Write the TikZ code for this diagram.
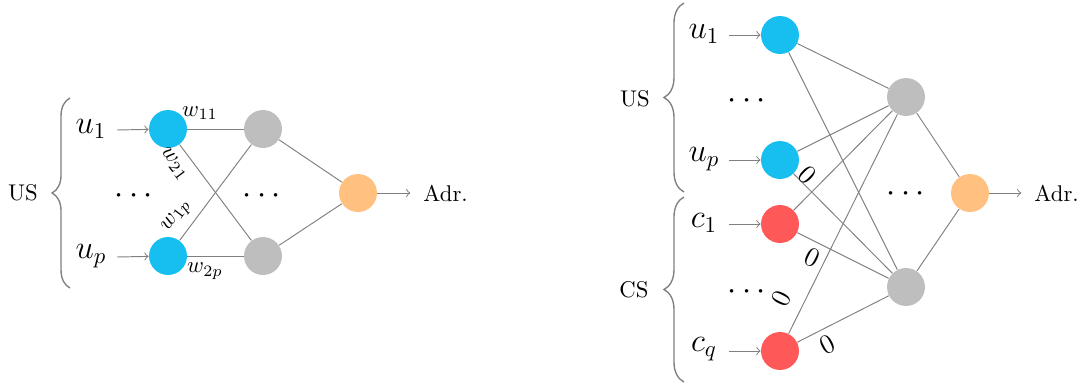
\documentclass[tikz,border=0pt]{standalone}
\usetikzlibrary{decorations.pathreplacing}
\definecolor{inblue}{RGB}{22,191,240}
\definecolor{inred}{RGB}{255,88,88}
\definecolor{outorange}{RGB}{255,192,128}
\definecolor{hidgray}{RGB}{190,190,190}
\definecolor{edgegray}{RGB}{128,128,128}
\tikzset{
  neuron/.style={circle,minimum size=16.7pt,inner sep=0pt},
  inu/.style={neuron,fill=inblue},
  inc/.style={neuron,fill=inred},
  hid/.style={neuron,fill=hidgray},
  outn/.style={neuron,fill=outorange},
  conn/.style={draw=edgegray,line width=0.42pt},
  feed/.style={draw=edgegray,line width=0.42pt,->},
  bracestyle/.style={draw=edgegray,line width=0.6pt,decorate,decoration={brace,amplitude=#1}},
  vartext/.style={font=\Large,inner sep=1pt},
  wlab/.style={inner sep=0pt},
  zlab/.style={font=\large,inner sep=0pt},
}
\begin{document}
\begin{tikzpicture}[x=0.44pt,y=-0.44pt]
\useasboundingbox (0,0) rectangle (1081,385);
% ---------------- left network ----------------
\node (lus) at (23,193) {US};
\draw[bracestyle=7.9pt] (70,288) -- (70,98);
\node[vartext] (lu1) at (91,129) {$u_1$};
\node[vartext] (lup) at (91,256) {$u_p$};
\node[vartext] (ldots1) at (134,196) {$\cdots$};
\node[inu] (lb1) at (168,129) {};
\node[inu] (lbp) at (168,256) {};
\node[hid] (lg1) at (263,129) {};
\node[hid] (lg2) at (263,256) {};
\node[vartext] (ldots2) at (262,196) {$\cdots$};
\node[outn] (lo) at (358,193) {};
\node[anchor=west,inner sep=0pt] (ladr) at (423,193) {Adr.};
\coordinate (lu1e) at (117,130);
\coordinate (lupe) at (117,257);
\draw[feed] (lu1e) -- (lb1);
\draw[feed] (lupe) -- (lbp);
\draw[conn] (lb1) -- (lg1);
\draw[conn] (lb1) -- (lg2);
\draw[conn] (lbp) -- (lg1);
\draw[conn] (lbp) -- (lg2);
\draw[conn] (lg1) -- (lo);
\draw[conn] (lg2) -- (lo);
\draw[feed,shorten >=5.6pt] (lo) -- (ladr);
\node[wlab] (w11) at (200,113) {$w_{11}$};
\node[wlab,rotate=-53] (w21) at (174,164) {$w_{21}$};
\node[wlab,rotate=53] (w1p) at (177,216) {$w_{1p}$};
\node[wlab] (w2p) at (205,271) {$w_{2p}$};
% ---------------- right network ----------------
\node (rus) at (635,99) {US};
\node (rcs) at (634,290) {CS};
\draw[bracestyle=8.8pt] (684,192) -- (684,3);
\draw[bracestyle=8.8pt] (684,382) -- (684,197);
\node[vartext] (ru1) at (704,34) {$u_1$};
\node[vartext] (rup) at (704,159) {$u_p$};
\node[vartext] (rc1) at (704,223) {$c_1$};
\node[vartext] (rcq) at (704,349) {$c_q$};
\node[vartext] (rdots1) at (747,101) {$\cdots$};
\node[vartext] (rdots2) at (747,292) {$\cdots$};
\node[inu] (rb1) at (780,35) {};
\node[inu] (rbp) at (780,160) {};
\node[inc] (rr1) at (780,224) {};
\node[inc] (rrq) at (780,351) {};
\node[hid] (rg1) at (906,97) {};
\node[hid] (rg2) at (906,287) {};
\node[vartext] (rdots3) at (906,194) {$\cdots$};
\node[outn] (ro) at (970,193) {};
\node[anchor=west,inner sep=0pt] (radr) at (1034,193) {Adr.};
\coordinate (ru1e) at (729,35);
\coordinate (rupe) at (729,160);
\coordinate (rc1e) at (729,224);
\coordinate (rcqe) at (729,351);
\draw[feed] (ru1e) -- (rb1);
\draw[feed] (rupe) -- (rbp);
\draw[feed] (rc1e) -- (rr1);
\draw[feed] (rcqe) -- (rrq);
\foreach \s in {rb1,rbp,rr1,rrq}{
  \draw[conn] (\s) -- (rg1);
  \draw[conn] (\s) -- (rg2);
}
\draw[conn] (rg1) -- (ro);
\draw[conn] (rg2) -- (ro);
\draw[feed,shorten >=5.6pt] (ro) -- (radr);
\node[zlab,rotate=-45] (z1) at (807,175) {$0$};
\node[zlab,rotate=-26.6] (z2) at (812,258) {$0$};
\node[zlab,rotate=63.6] (z3) at (781,299) {$0$};
\node[zlab,rotate=27] (z4) at (827,345) {$0$};
\end{tikzpicture}
\end{document}
